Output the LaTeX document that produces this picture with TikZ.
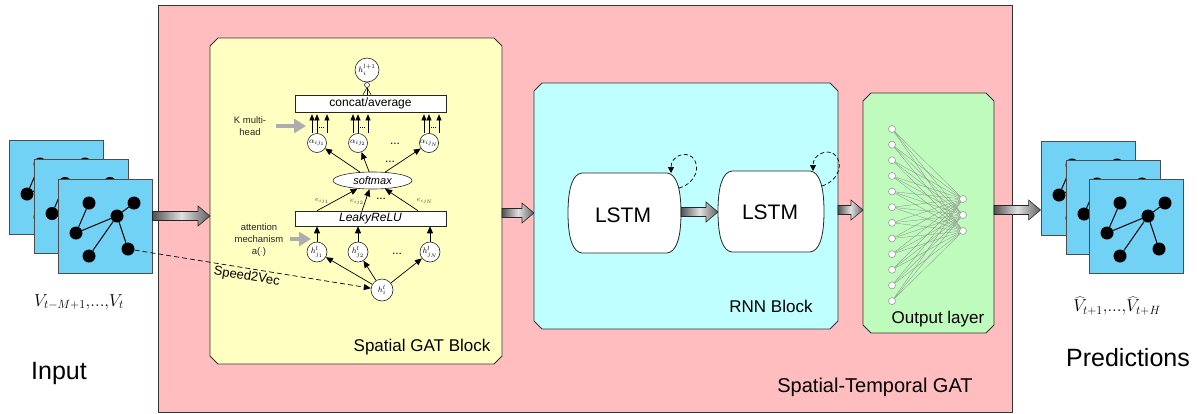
\documentclass[tikz,border=0pt]{standalone}
\usepackage[no-math]{fontspec}
\setmainfont{Liberation Sans}
\usetikzlibrary{calc,arrows.meta,shapes.geometric}
\pgfdeclarelayer{bg}
\pgfsetlayers{bg,main}

\definecolor{pinkfill}{HTML}{FFBDBF}
\definecolor{yellowfill}{HTML}{FFFFC2}
\definecolor{cyanfill}{HTML}{C0FFFF}
\definecolor{greenfill}{HTML}{C0FBBE}
\definecolor{tilefill}{HTML}{72D2F6}

% outline of a block with cut corners
\newcommand\chamferoutline[3]{%
  \path[blockline, fill=#2] ([xshift=#3]#1.north west) -- ([xshift=-#3]#1.north east)
    -- ([yshift=-#3]#1.north east) -- ([yshift=#3]#1.south east)
    -- ([xshift=-#3]#1.south east) -- ([xshift=#3]#1.south west)
    -- ([yshift=#3]#1.south west) -- ([yshift=-#3]#1.north west) -- cycle;}

% thick shaded arrow between two points, at the height of the first
\newcommand\fatarrow[2]{%
  \path[fatarrowstyle] let \p1=#1, \p2=#2 in
    (\x1,\y1+4.5pt) -- (\x2-12pt,\y1+4.5pt) -- (\x2-12pt,\y1+10pt) -- (\x2,\y1)
    -- (\x2-12pt,\y1-10pt) -- (\x2-12pt,\y1-4.5pt) -- (\x1,\y1-4.5pt) -- cycle;}

% barrel-shaped LSTM cell
\newcommand\lstmoutline[1]{%
  \path[lstmline] ([xshift=14pt]#1.north west) -- ([xshift=-14pt]#1.north east)
    .. controls ([xshift=-5pt,yshift=-1pt]#1.north east) and ([yshift=-14pt]#1.north east) .. (#1.east)
    .. controls ([yshift=14pt]#1.south east) and ([xshift=-5pt,yshift=1pt]#1.south east) .. ([xshift=-14pt]#1.south east)
    -- ([xshift=14pt]#1.south west)
    .. controls ([xshift=5pt,yshift=1pt]#1.south west) and ([yshift=14pt]#1.south west) .. (#1.west)
    .. controls ([yshift=-14pt]#1.north west) and ([xshift=5pt,yshift=-1pt]#1.north west) .. cycle;}

\begin{document}
\begin{tikzpicture}[x=1pt,y=-1pt,
  block/.style={rectangle, draw=none, inner sep=0pt, outer sep=0pt},
  blockline/.style={draw=black!80, line width=0.9pt},
  fatarrowstyle/.style={draw=black!85, line width=0.6pt, left color=black!68, right color=black!62, middle color=black!12},
  lstmline/.style={draw=black!85, fill=white, line width=0.8pt},
  circ/.style={circle, draw=black!85, fill=white, line width=0.6pt, inner sep=0pt, minimum size=20pt, font=\fontsize{8}{9}\selectfont},
  bar/.style={rectangle, draw=black!85, fill=white, line width=0.6pt, inner sep=0pt, minimum width=151pt},
  arr/.style={line width=0.7pt, -{Triangle[width=6pt,length=7pt]}},
  mharr/.style={line width=0.5pt, -{Triangle[width=5pt,length=6pt]}, shorten >=2pt},
  grayarr/.style={draw=black!32, line width=4pt, -{Triangle[width=14pt,length=12pt]}},
  small/.style={font=\fontsize{9.5}{12}\selectfont, align=center, text=black!85},
  tinymath/.style={font=\fontsize{7}{8}\selectfont, text=black!75, inner sep=0pt},
  dotsym/.style={font=\fontsize{12}{12}\selectfont, inner sep=0pt},
  dot/.style={circle, fill=black, inner sep=0pt, minimum size=13pt},
  tilebox/.style={rectangle, draw=black!70, fill=tilefill, line width=0.9pt, minimum size=94pt, inner sep=0pt},
  tileedge/.style={line width=1pt},
  neuron/.style={circle, draw=black!45, fill=white, line width=0.5pt, inner sep=0pt, minimum size=7pt},
  netedge/.style={draw=black!45, line width=0.3pt},
  loopline/.style={dash pattern=on 4pt off 2.5pt, line width=0.7pt, -{Triangle[width=6pt,length=6pt]}},
  blocklabel/.style={font=\fontsize{17}{20}\selectfont},
  seqmath/.style={font=\fontsize{17}{20}\selectfont, inner sep=1pt},
  pics/tile/.style={code={
    \node[tilebox] (-box) at (47,47) {};
    \node[dot] (-a) at (31,24) {};
    \node[dot] (-b) at (76,24) {};
    \node[dot] (-c) at (59,37) {};
    \node[dot] (-d) at (18,54) {};
    \node[dot] (-e) at (70,70) {};
    \node[dot] (-f) at (31,77) {};
    \draw[tileedge] (-a) -- (-d) -- (-c) -- (-b) (-c) -- (-f) (-c) -- (-e);
  }}
]
\useasboundingbox (0,0) rectangle (1198,413);

% ---- containers ----
\node[block, minimum width=854pt, minimum height=407pt] (stgat) at (585,208.5) {};
\node[block, minimum width=292pt, minimum height=326pt] (gat) at (356,201) {};
\node[block, minimum width=304pt, minimum height=246pt] (rnn) at (686,206) {};
\node[block, minimum width=131pt, minimum height=240pt] (outl) at (928.5,213) {};
\node[block, minimum width=113pt, minimum height=80pt] (lstm1) at (624.5,213) {};
\node[block, minimum width=106pt, minimum height=81pt] (lstm2) at (771,211.5) {};

\begin{pgfonlayer}{bg}
  \path[blockline, fill=pinkfill] (stgat.north west) rectangle (stgat.south east);
  \chamferoutline{gat}{yellowfill}{8pt}
  \chamferoutline{rnn}{cyanfill}{8pt}
  \chamferoutline{outl}{greenfill}{8pt}
  \lstmoutline{lstm1}
  \lstmoutline{lstm2}
\end{pgfonlayer}

\node[blocklabel] (stgatlabel) at (875,387) {\fontsize{20}{24}\selectfont Spatial-Temporal GAT};
\node[blocklabel] (gatlabel) at (422,347) {Spatial GAT Block};
\node[blocklabel] (rnnlabel) at (771,306) {RNN Block};
\node[blocklabel] (outlabel) at (938,319) {Output layer};

% ---- input and output graph sequences ----
\pic (in1) at (9,140) {tile};
\pic (in2) at (34,159.5) {tile};
\pic (in3) at (58,179) {tile};
\pic (pr1) at (1041,141) {tile};
\pic (pr2) at (1066,160) {tile};
\pic (pr3) at (1089,179) {tile};

\node[seqmath] (inmath) at (79,302) {$V_{t-M+1}{,}\mathrm{...}{,}V_t$};
\node[font=\fontsize{25}{28}\selectfont] (inlabel) at (59,373) {Input};
\node[seqmath] (prmath) at (1117,306) {$\widehat{V}_{t+1}{,}\mathrm{...}{,}\widehat{V}_{t+H}$};
\node[font=\fontsize{25}{28}\selectfont] (prlabel) at (1128,358) {Predictions};

% ---- spatial GAT block ----
\node[circ, minimum size=24pt] (hout) at (367,70) {$h_i^{l+1}$};
\coordinate (hjoin) at (367,85);
\node[bar, minimum height=17pt, font=\fontsize{12}{14}\selectfont] (concat) at (370.5,103.5) {concat/average};
\foreach \dx in {-4,0,4}
  \draw[line width=0.5pt] ([xshift=\dx pt]concat.north -| hjoin) -- ([yshift=-2.5pt]hjoin);
\draw[draw=black!85, fill=white, line width=0.6pt] (hjoin) circle[radius=2.5pt];

\node[circ, minimum size=19pt] (a1) at (317,143) {$\alpha_{ij_1}$};
\node[circ, minimum size=19pt] (a2) at (358,143) {$\alpha_{ij_2}$};
\node[circ, minimum size=19pt] (a3) at (429,143) {$\alpha_{ij_N}$};
\node[dotsym] (adots) at (395,144) {...};
\foreach \k in {a1,a2,a3} {
  \foreach \dx in {-5,0,10}
    \draw[mharr] ([xshift=\dx pt]\k.north) -- ([xshift=\dx pt]\k.north |- concat.south);
  \draw[line width=0.6pt, dash pattern=on 0.8pt off 1.4pt] ([xshift=2pt,yshift=6pt]\k.north) -- ([xshift=8pt,yshift=6pt]\k.north);
}

\node[ellipse, draw=black!85, fill=white, line width=0.6pt, inner sep=0pt, minimum width=79pt, minimum height=17pt, font=\itshape\fontsize{11}{12}\selectfont] (sm) at (372.5,180.5) {softmax};
\node[dotsym] (smdots) at (390,162) {...};
\draw[arr] (sm) -- (a1);
\draw[arr] (sm) -- (a2);
\draw[arr] (sm) -- (a3);

\node[bar, minimum height=15pt, font=\itshape\fontsize{12}{14}\selectfont] (leaky) at (370.5,218.5) {LeakyReLU};
\draw[arr] (leaky.north -| a1) -- (sm);
\draw[arr] ([xshift=4pt]leaky.north -| a2) -- (sm);
\draw[arr] ([xshift=-11pt]leaky.north -| a3) -- (sm);
\node[tinymath] (e1) at (322,201) {$e_{ij_1}$};
\node[tinymath] (e2) at (357,202) {$e_{ij_2}$};
\node[dotsym] (edots) at (381,199) {...};
\node[tinymath] (e3) at (425,201) {$e_{ij_N}$};

\node[circ] (hj1) at (317,252) {$h^l_{j_1}$};
\node[circ] (hj2) at (358,252) {$h^l_{j_2}$};
\node[circ] (hj3) at (430,252) {$h^l_{j_N}$};
\node[dotsym] (hdots) at (397,254) {...};
\foreach \h in {hj1,hj2,hj3}
  \draw[arr] (\h) -- (\h |- leaky.south);

\node[circ, minimum size=22pt] (hi) at (382,290) {$h_i^l$};
\draw[arr] (hi) -- (hj1);
\draw[arr] (hi) -- (hj2);
\draw[arr] (hi) -- (hj3);

\node[small] (kmh) at (250,126) {K multi-\\head};
\coordinate (kmhtip) at (306,126);
\draw[grayarr] ([xshift=6pt]kmh.east |- kmhtip) -- (kmhtip);

\node[small] (attn) at (259,240) {attention\\mechanism\\a($\cdot$)};
\coordinate (attntip) at (311,239);
\draw[grayarr] ([xshift=3pt]attn.east |- attntip) -- (attntip);

\draw[arr, dash pattern=on 5pt off 3pt] (in3-e) -- (hi)
  node[sloped, below, pos=0.48, font=\fontsize{13}{15}\selectfont, inner sep=2pt] (s2v) {Speed2Vec};

% ---- RNN block ----
\node[font=\fontsize{21}{24}\selectfont] (lstm1text) at (623,215) {LSTM};
\node[font=\fontsize{21}{24}\selectfont] (lstm2text) at (770,212) {LSTM};
\draw[loopline] ($(lstm1.north east)+(-2,15)$) .. controls ($(lstm1.north east)+(16,10)$) and ($(lstm1.north east)+(20,-8)$) .. ($(lstm1.north east)+(11,-16)$)
  .. controls ($(lstm1.north east)+(4,-22)$) and ($(lstm1.north east)+(-10,-17)$) .. ($(lstm1.north east)+(-10,0)$);
\draw[loopline] ($(lstm2.north east)+(-2,15)$) .. controls ($(lstm2.north east)+(16,9)$) and ($(lstm2.north east)+(20,-9)$) .. ($(lstm2.north east)+(10,-17)$)
  .. controls ($(lstm2.north east)+(3,-22)$) and ($(lstm2.north east)+(-11,-17)$) .. ($(lstm2.north east)+(-11,0)$);

% ---- output layer ----
\foreach \i in {0,...,11}
  \node[neuron] (n\i) at (892,{129+15.64*\i}) {};
\foreach \j/\y in {0/199,1/215,2/231}
  \node[neuron] (m\j) at (963,\y) {};
\foreach \i in {0,...,11}
  \foreach \j in {0,1,2}
    \draw[netedge] (n\i) -- (m\j);

% ---- data flow ----
\fatarrow{([yshift=10pt]in3-box.east)}{(gat.west)}
\fatarrow{([yshift=-12pt]gat.east)}{(rnn.west)}
\fatarrow{([yshift=1pt]lstm1.east)}{(lstm2.west)}
\fatarrow{([yshift=-4pt]rnn.east)}{(outl.west)}
\fatarrow{([yshift=3pt]outl.east)}{(pr1-box.west)}
\end{tikzpicture}
\end{document}
